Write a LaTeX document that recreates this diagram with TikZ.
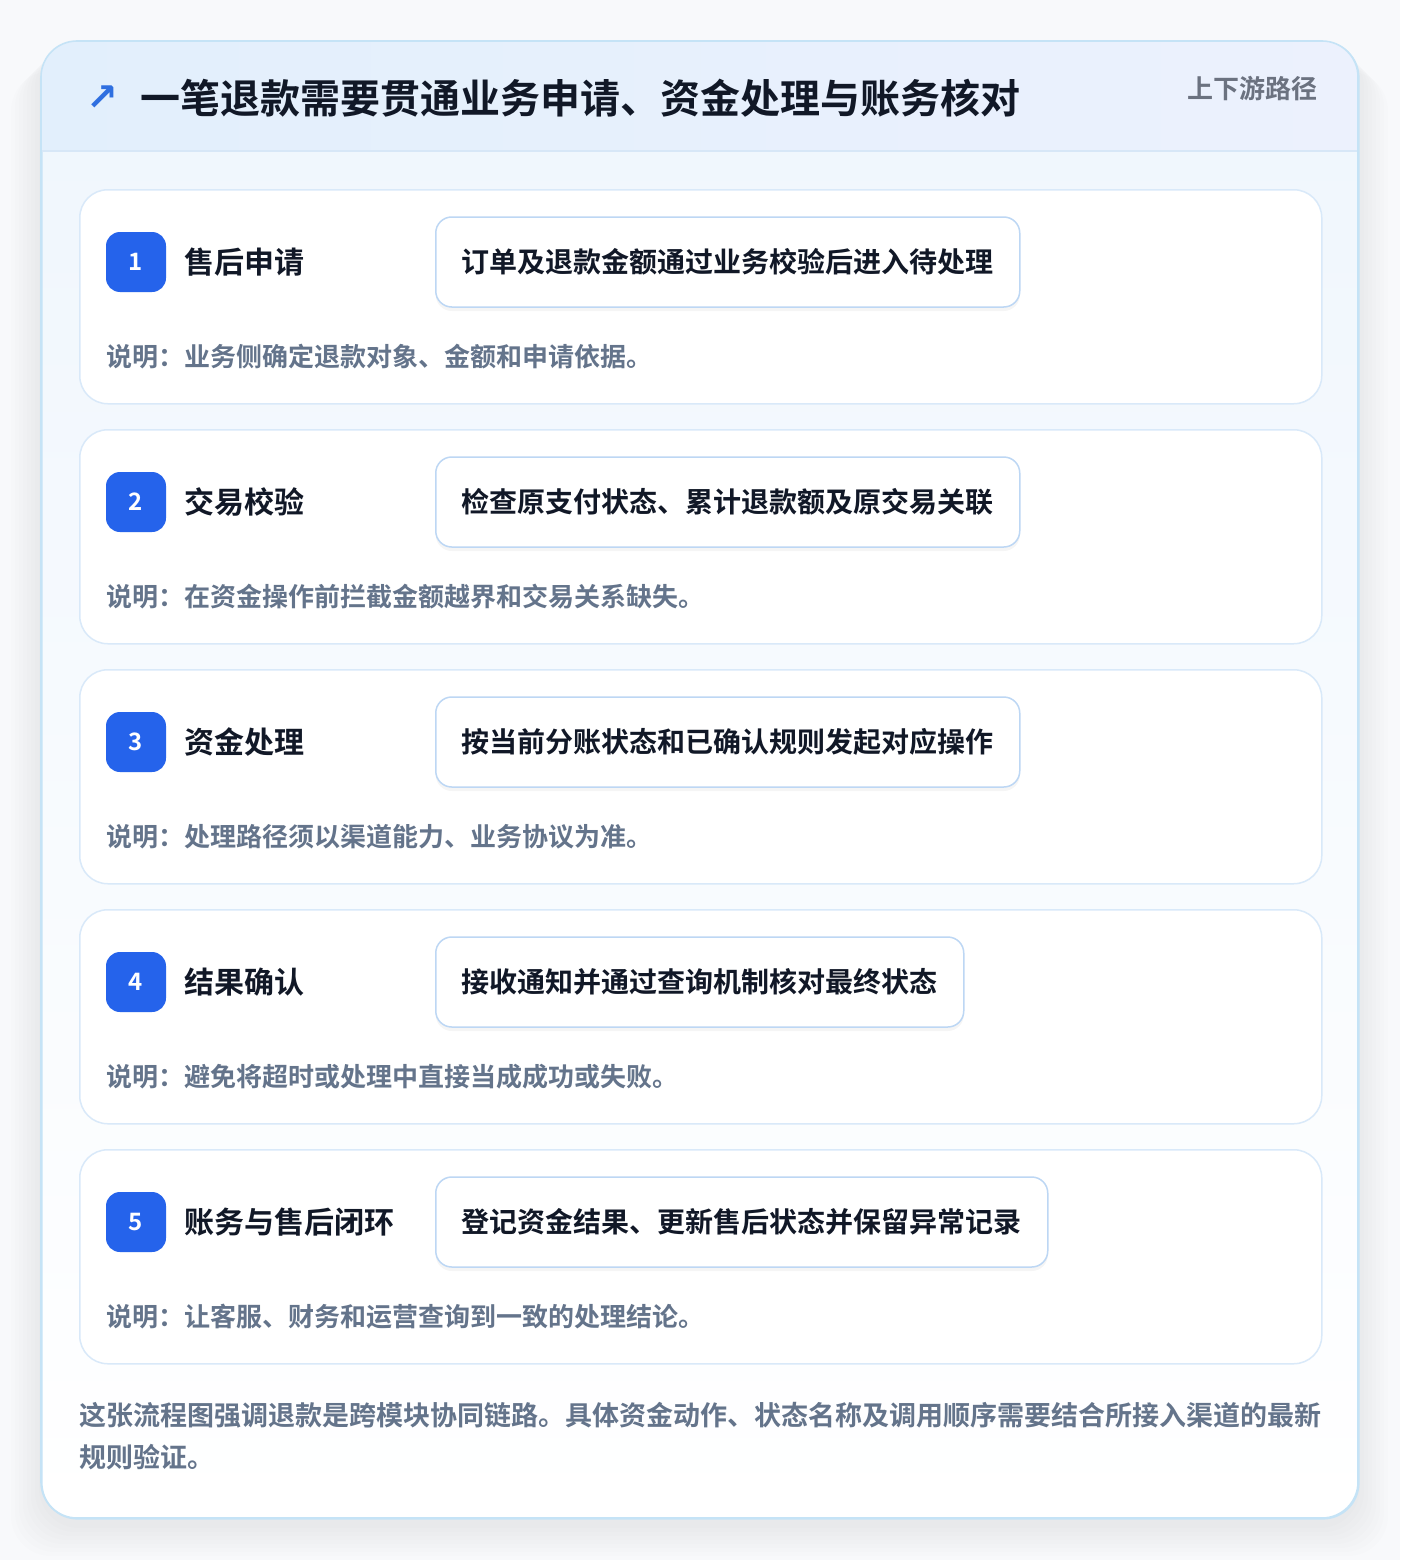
\documentclass[tikz,border=0pt]{standalone}
\usepackage{fontspec}
\setmainfont{Noto Sans CJK SC}[BoldFont={Noto Sans CJK SC Bold}]
\newfontfamily\symfont{DejaVu Sans}
\usetikzlibrary{positioning,shadows,calc}
\definecolor{pagebg}{HTML}{F8F9FB}
\definecolor{panelline}{HTML}{C5E3F6}
\definecolor{paneltop}{HTML}{EFF6FD}
\definecolor{headA}{HTML}{E2EFFC}
\definecolor{headB}{HTML}{ECF1FD}
\definecolor{headline}{HTML}{D7E7F7}
\definecolor{cardline}{HTML}{D9E9F9}
\definecolor{boxline}{HTML}{BDD7F4}
\definecolor{badgeblue}{HTML}{2563EB}
\definecolor{inkdark}{HTML}{111827}
\definecolor{notegray}{HTML}{64748B}
\definecolor{taggray}{HTML}{6B7280}
\definecolor{iconblue}{HTML}{2F6FE0}
\tikzset{
  panel/.style={
    rectangle, rounded corners=36pt, anchor=north west,
    draw=panelline, line width=1.6pt,
    top color=paneltop, bottom color=white,
    minimum width=1317pt, minimum height=1477pt
  },
  card/.style={
    rectangle, rounded corners=28pt, anchor=north west,
    draw=cardline, line width=1.5pt, fill=white,
    minimum width=1242pt, minimum height=214pt
  },
  badge/.style={
    rectangle, rounded corners=14pt,
    fill=badgeblue, text=white, minimum size=60pt,
    font=\fontsize{24}{24}\selectfont\bfseries
  },
  steptitle/.style={anchor=west, inner sep=0pt, text=inkdark,
    font=\fontsize{30}{36}\selectfont\bfseries},
  actionbox/.style={
    rectangle, rounded corners=16pt, anchor=west,
    draw=boxline, line width=1.5pt, fill=white,
    drop shadow={shadow xshift=0pt, shadow yshift=-4pt, opacity=0.04, fill=black},
    minimum height=90pt, inner xsep=26pt, text=inkdark,
    font=\fontsize{28}{34}\selectfont\bfseries
  },
  note/.style={anchor=west, inner sep=0pt, text=notegray,
    font=\fontsize{26}{30}\selectfont\bfseries},
}

\begin{document}
\begin{tikzpicture}[x=1pt, y=-1pt]
\useasboundingbox (0,0) rectangle (1400,1560);
\fill[pagebg] (0,0) rectangle (1400,1560);
% --- soft shadow under the panel ---
\foreach \s in {2,6,...,30}
  \fill[black, opacity=0.008, rounded corners=40pt]
    ({41-\s},{41+\s}) rectangle ({1358+\s},{1518+\s+8});
% --- Panel and header ---
\node[panel] (panel) at (41,41) {};
\begin{scope}
  \clip[rounded corners=36pt] (41,41) rectangle (1358,1518);
  \shade[left color=headA, right color=headB] (41,41) rectangle (1358,151);
\end{scope}
\draw[headline, line width=1.2pt] (42,151) -- (1357,151);
\draw[panelline, line width=1.6pt, rounded corners=36pt] (41,41) rectangle (1358,1518);
\node[text=iconblue, font=\symfont\bfseries\fontsize{38}{38}\selectfont] (icon) at (102,98) {↗};
\node[anchor=west, inner sep=0pt, text=inkdark, font=\fontsize{40}{44}\selectfont\bfseries]
  (heading) at (140,98) {一笔退款需要贯通业务申请、资金处理与账务核对};
\node[anchor=east, inner sep=0pt, text=taggray, font=\fontsize{26}{30}\selectfont\bfseries]
  (tag) at (1318,89) {上下游路径};
% --- Steps ---
\foreach \n/\ttl/\act/\memo [count=\i from 0] in {
  1/售后申请/订单及退款金额通过业务校验后进入待处理/说明：业务侧确定退款对象、金额和申请依据。,
  2/交易校验/检查原支付状态、累计退款额及原交易关联/说明：在资金操作前拦截金额越界和交易关系缺失。,
  3/资金处理/按当前分账状态和已确认规则发起对应操作/说明：处理路径须以渠道能力、业务协议为准。,
  4/结果确认/接收通知并通过查询机制核对最终状态/说明：避免将超时或处理中直接当成成功或失败。,
  5/账务与售后闭环/登记资金结果、更新售后状态并保留异常记录/说明：让客服、财务和运营查询到一致的处理结论。}
{
  \node[card] (card\n) at (79,{189+240*\i}) {};
  \node[badge] (badge\n) at ($(card\n.north west)+(57,73)$) {\n};
  \node[steptitle, right=18pt of badge\n] (title\n) {\ttl};
  \node[actionbox] (act\n) at ($(card\n.north west)+(356,73)$) {\act};
  \node[note] (memo\n) at ($(card\n.north west)+(27,168)$) {\memo};
}
% --- Footer ---
\node[anchor=base west, inner sep=0pt, align=left, text=notegray,
  font=\fontsize{27}{42}\selectfont\bfseries] (footer) at (79,1467)
  {这张流程图强调退款是跨模块协同链路。具体资金动作、状态名称及调用顺序需要结合所接入渠道的最新\\规则验证。};
\end{tikzpicture}
\end{document}
